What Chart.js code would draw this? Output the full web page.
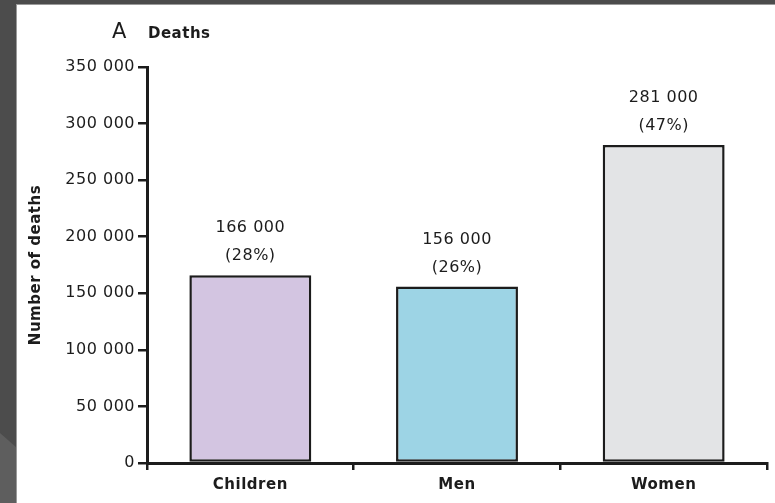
<!DOCTYPE html>
<html>
<head>
<meta charset="utf-8">
<script src="https://cdn.jsdelivr.net/npm/chart.js@4.4.1/dist/chart.umd.min.js"></script>
<style>
  html, body { margin: 0; padding: 0; }
  body { width: 775px; height: 503px; background: #4c4c4c; position: relative; overflow: hidden; }
  #shade { position: absolute; left: 0; top: 0; width: 17px; height: 503px; background: #5e5e5e;
           clip-path: polygon(0 433px, 17px 448px, 17px 503px, 0 503px); }
  #edge { position: absolute; left: 16px; top: 4px; width: 759px; height: 499px; background: #9a9a9a; }
  #panel { position: absolute; left: 17px; top: 5px; width: 758px; height: 498px; background: #fff; }
  canvas { position: absolute; left: 0; top: 0; }
</style>
</head>
<body>
<div id="shade"></div>
<div id="edge"></div>
<div id="panel"></div>
<canvas id="chart" width="775" height="503"></canvas>
<script>
// data
const groups = ['Children', 'Men', 'Women'];
const deaths = [166000, 156000, 281000];
const shares = ['28%', '26%', '47%'];
const barColours = ['#d3c5e1', '#9dd4e5', '#e3e4e6'];
const yTicks = [0, 50000, 100000, 150000, 200000, 250000, 300000, 350000];

const ink = '#1c1c1c';
const fmt = (v) => String(v).replace(/\B(?=(\d{3})+(?!\d))/g, ' ');

// a touch of spacing, the source text is wide
const spacing = {
  id: 'spacing',
  beforeLayout(chart) { chart.ctx.letterSpacing = '0.5px'; },
  beforeDraw(chart) { chart.ctx.letterSpacing = '0.5px'; },
};

// "A  Deaths" panel heading
const heading = {
  id: 'heading',
  afterDraw(chart) {
    const ctx = chart.ctx;
    ctx.save();
    ctx.fillStyle = ink;
    ctx.textBaseline = 'alphabetic';
    ctx.textAlign = 'left';
    ctx.font = '21px "DejaVu Sans"';
    ctx.fillText('A', 112, 38);
    ctx.font = 'bold 15px "DejaVu Sans"';
    ctx.fillText('Deaths', 148, 38);
    ctx.restore();
  },
};

// count and share above each bar
const barLabels = {
  id: 'barLabels',
  afterDatasetsDraw(chart) {
    const ctx = chart.ctx;
    const meta = chart.getDatasetMeta(0);
    ctx.save();
    ctx.fillStyle = ink;
    ctx.font = '16px "DejaVu Sans"';
    ctx.textAlign = 'center';
    ctx.textBaseline = 'middle';
    meta.data.forEach((bar, i) => {
      ctx.fillText(fmt(deaths[i]), bar.x, bar.y - 47);
      ctx.fillText('(' + shares[i] + ')', bar.x, bar.y - 19);
    });
    ctx.restore();
  },
};

new Chart(document.getElementById('chart'), {
  type: 'bar',
  data: {
    labels: groups,
    datasets: [{
      data: deaths,
      backgroundColor: barColours,
      borderColor: ink,
      borderWidth: 2.5,
      borderSkipped: false,
      categoryPercentage: 0.59,
      barPercentage: 1,
    }],
  },
  options: {
    responsive: false,
    animation: false,
    layout: { padding: { left: 22, right: 8, top: 67, bottom: 0 } },
    plugins: { legend: { display: false }, tooltip: { enabled: false } },
    scales: {
      x: {
        grid: { drawOnChartArea: false, drawTicks: true, tickLength: 7, color: ink, lineWidth: 2.5, offset: true },
        border: { display: true, color: ink, width: 3 },
        ticks: { color: ink, font: { family: 'DejaVu Sans', size: 15, weight: 'bold' }, padding: 6 },
        afterFit(scale) { scale.height = 40; },
      },
      y: {
        min: 0,
        max: 350000,
        afterBuildTicks(scale) { scale.ticks = yTicks.map((v) => ({ value: v })); },
        grid: { drawOnChartArea: false, drawTicks: true, tickLength: 9, color: ink, lineWidth: 2.5 },
        border: { display: true, color: ink, width: 3 },
        ticks: { color: ink, font: { family: 'DejaVu Sans', size: 16 }, padding: 3, callback: (v) => fmt(v) },
        title: {
          display: true,
          text: 'Number of deaths',
          color: ink,
          font: { family: 'DejaVu Sans', size: 15, weight: 'bold' },
          padding: { top: 5, bottom: 0 },
        },
        afterFit(scale) { scale.width = 125; },
      },
    },
  },
  plugins: [spacing, heading, barLabels],
});
</script>
</body>
</html>
